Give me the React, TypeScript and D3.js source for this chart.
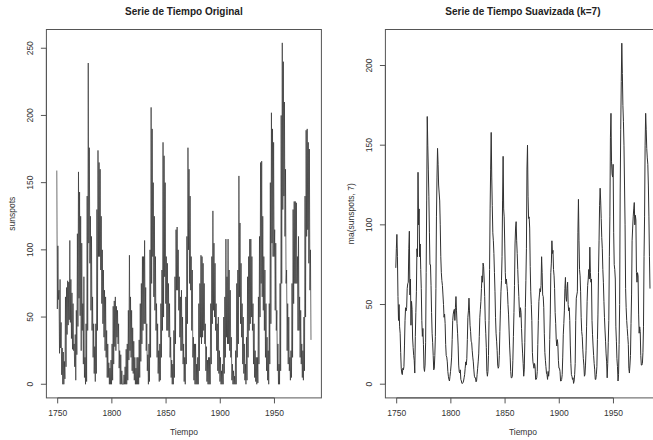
import React from "react";
import * as d3 from "d3";

// ---- data ----
const FIRST_YEAR = 1749;

// monthly sunspots, summarised as [high, low] per year 1749..1983
const sunspotsHiLo: number[] = [
  159, 56, 103, 63, 70, 23, 78, 27, 46, 7, 27, 0, 24, 0, 17, 4, 65, 13, 72, 37,
  77, 44, 76, 48, 107, 46, 78, 34, 68, 26, 60, 25, 30, 13, 37, 3, 55, 22, 112, 43,
  158, 64, 143, 51, 125, 25, 105, 40, 60, 15, 80, 5, 20, 0, 45, 2, 140, 40, 239, 105,
  176, 90, 125, 55, 110, 40, 65, 20, 45, 8, 28, 2, 45, 8, 130, 40, 174, 95, 165, 95,
  160, 85, 125, 60, 100, 45, 85, 35, 70, 25, 65, 20, 40, 5, 30, 5, 16, 0, 12, 0,
  18, 0, 30, 3, 58, 15, 62, 28, 65, 25, 58, 35, 55, 30, 45, 12, 25, 0, 22, 0,
  10, 0, 0, 0, 7, 0, 13, 0, 26, 0, 30, 3, 55, 18, 96, 25, 65, 20, 55, 10,
  42, 8, 32, 3, 20, 0, 12, 0, 20, 0, 20, 0, 33, 5, 60, 17, 75, 30, 95, 40,
  95, 45, 107, 45, 72, 25, 45, 10, 22, 0, 30, 2, 100, 20, 206, 75, 190, 95, 150, 65,
  125, 55, 95, 40, 60, 20, 45, 8, 25, 2, 30, 3, 60, 20, 85, 40, 180, 50, 170, 80,
  150, 60, 95, 40, 90, 40, 75, 35, 60, 20, 35, 5, 18, 0, 15, 0, 40, 5, 80, 30,
  115, 70, 117, 70, 100, 55, 80, 35, 65, 25, 70, 25, 50, 15, 30, 2, 20, 0, 65, 15,
  110, 45, 176, 100, 160, 75, 140, 70, 95, 40, 85, 20, 35, 3, 30, 0, 30, 0, 15, 0,
  20, 0, 60, 10, 75, 35, 96, 30, 95, 35, 90, 40, 75, 30, 45, 10, 28, 2, 18, 0,
  20, 0, 20, 0, 60, 15, 95, 45, 129, 55, 105, 50, 90, 40, 60, 25, 45, 10, 50, 8,
  25, 2, 20, 0, 10, 0, 15, 0, 50, 8, 65, 20, 108, 35, 80, 30, 108, 30, 85, 25,
  70, 20, 35, 3, 15, 0, 10, 0, 6, 0, 25, 0, 75, 20, 85, 30, 155, 65, 120, 45,
  90, 35, 60, 15, 50, 8, 30, 3, 15, 0, 35, 3, 80, 20, 95, 40, 108, 45, 108, 50,
  95, 40, 60, 15, 45, 5, 25, 2, 20, 0, 20, 1, 65, 15, 110, 50, 165, 75, 166, 65,
  125, 55, 95, 40, 85, 20, 60, 10, 35, 3, 25, 0, 60, 15, 150, 45, 202, 105, 190, 95,
  180, 95, 115, 55, 105, 40, 55, 10, 30, 0, 15, 0, 75, 10, 200, 75, 254, 130, 240, 140,
  210, 110, 160, 75, 85, 25, 60, 15, 50, 10, 20, 3, 25, 5, 75, 20, 130, 60, 136, 75,
  136, 75, 135, 75, 95, 40, 110, 40, 65, 20, 55, 15, 30, 5, 25, 3, 50, 10, 140, 50,
  189, 110, 190, 115, 180, 90, 175, 70, 100, 33,
];

// ma(sunspots, 7), two readings per year 1749..1983
const maHalfYear: number[] = [
  73, 85, 94, 80, 55, 40, 50, 36, 32, 20, 10, 7, 6, 10, 9, 11, 24, 40, 48, 46,
  48, 60, 63, 64, 85, 96, 56, 66, 37, 52, 47, 29, 23, 18, 15, 7, 30, 45, 58, 85,
  80, 133, 100, 110, 80, 88, 72, 60, 40, 30, 35, 25, 10, 8, 12, 26, 70, 115, 168, 150,
  135, 118, 95, 75, 75, 62, 45, 32, 26, 18, 9, 10, 18, 30, 60, 105, 130, 148, 138, 125,
  120, 115, 100, 80, 70, 65, 62, 56, 50, 42, 44, 38, 25, 18, 17, 14, 8, 5, 3, 2,
  5, 8, 12, 17, 28, 40, 44, 46, 47, 40, 48, 55, 46, 38, 32, 24, 12, 8, 7, 9,
  3, 2, 0.5, 0.5, 1, 2, 4, 6, 10, 14, 12, 16, 28, 42, 46, 54, 46, 37, 33, 27,
  26, 21, 17, 14, 9, 5, 4, 4, 1.5, 2, 6, 10, 14, 19, 30, 42, 47, 52, 60, 68,
  64, 76, 74, 66, 55, 40, 32, 23, 8, 5, 8, 18, 40, 72, 110, 135, 158, 130, 112, 95,
  90, 82, 70, 58, 42, 32, 27, 21, 12, 10, 11, 18, 33, 46, 58, 65, 80, 115, 143, 110,
  105, 88, 70, 63, 66, 62, 58, 50, 44, 34, 24, 17, 8, 4, 4, 5, 15, 30, 45, 62,
  88, 98, 102, 90, 82, 72, 63, 55, 46, 42, 48, 45, 35, 26, 19, 13, 5, 9, 26, 48,
  65, 85, 135, 150, 118, 104, 105, 98, 74, 58, 50, 40, 20, 14, 12, 10, 13, 11, 3, 3,
  4, 8, 25, 40, 52, 56, 60, 58, 62, 80, 70, 56, 55, 48, 32, 20, 15, 11, 7, 6,
  3, 8, 5, 9, 28, 44, 70, 76, 90, 82, 84, 72, 68, 60, 45, 38, 28, 24, 28, 25,
  15, 10, 10, 8, 2, 2, 3, 6, 17, 31, 38, 46, 60, 67, 55, 52, 60, 64, 50, 46,
  48, 40, 24, 13, 6, 5, 3, 4, 0.5, 2, 6, 13, 40, 54, 56, 58, 95, 116, 90, 72,
  68, 58, 42, 33, 30, 22, 16, 12, 5, 6, 12, 21, 36, 52, 62, 66, 72, 66, 86, 70,
  64, 66, 40, 31, 24, 18, 13, 9, 3, 3, 6, 11, 28, 44, 70, 90, 112, 123, 115, 104,
  92, 85, 72, 64, 52, 42, 34, 27, 19, 14, 4, 13, 26, 40, 80, 105, 155, 170, 140, 132,
  130, 138, 95, 75, 72, 66, 36, 27, 16, 11, 2, 6, 25, 50, 120, 160, 190, 214, 195, 175,
  165, 150, 125, 100, 60, 48, 40, 35, 30, 25, 10, 7, 12, 18, 38, 56, 90, 98, 105, 110,
  114, 100, 106, 103, 70, 64, 70, 68, 44, 32, 36, 33, 18, 12, 12, 13, 20, 36, 80, 105,
  150, 170, 160, 148, 142, 138, 125, 105, 80, 60,
];

const xTicks: number[] = [1750, 1800, 1850, 1900, 1950];
const leftYTicks: number[] = [0, 50, 100, 150, 200, 250];
const rightYTicks: number[] = [0, 50, 100, 150, 200];
const titles: string[] = ["Serie de Tiempo Original", "Serie de Tiempo Suavizada (k=7)"];
const yLabels: string[] = ["sunspots", "ma(sunspots, 7)"];
const xLabel = "Tiempo";

// ---- layout ----
const W = 653;
const H = 440;
const FONT = "'Liberation Sans', Arial, Helvetica, sans-serif";
const X_DOMAIN: [number, number] = [1739.6, 1993.3];

type PanelDef = {
  title: string;
  ylab: string;
  values: number[];
  yTicks: number[];
  yDomain: [number, number];
  left: number;
  right: number;
  stroke: string;
  strokeWidth: number;
};

const panels: PanelDef[] = [
  {
    title: titles[0],
    ylab: yLabels[0],
    values: sunspotsHiLo,
    yTicks: leftYTicks,
    yDomain: [-10.15, 263.95],
    left: 46.4,
    right: 321.4,
    stroke: "#303030",
    strokeWidth: 0.7,
  },
  {
    title: titles[1],
    ylab: yLabels[1],
    values: maHalfYear,
    yTicks: rightYTicks,
    yDomain: [-8.6, 222.6],
    left: 385.4,
    right: 660.4,
    stroke: "#303030",
    strokeWidth: 1,
  },
];

const TOP = 29.5;
const BOTTOM = 397.9;

function Panel({ p }: { p: PanelDef }) {
  const x = d3.scaleLinear().domain(X_DOMAIN).range([p.left, p.right]);
  const y = d3.scaleLinear().domain(p.yDomain).range([BOTTOM, TOP]);
  const pts: [number, number][] = p.values.map((v, i) => [
    FIRST_YEAR + Math.floor(i / 2) + (i % 2 === 0 ? 0.2 : 0.7),
    v,
  ]);
  const line = d3
    .line<[number, number]>()
    .x((d) => x(d[0]))
    .y((d) => y(d[1]));
  const cx = (p.left + p.right) / 2;
  const cy = (TOP + BOTTOM) / 2;
  const axisColor = "#555";
  const textColor = "#333";
  return (
    <g>
      <text
        x={cx}
        y={15}
        textAnchor="middle"
        fontFamily={FONT}
        fontWeight="bold"
        fontSize={10}
        fill="#222"
      >
        {p.title}
      </text>
      <path
        d={line(pts) || ""}
        fill="none"
        stroke={p.stroke}
        strokeWidth={p.strokeWidth}
        strokeLinejoin="round"
      />
      <rect
        x={p.left}
        y={TOP}
        width={p.right - p.left}
        height={BOTTOM - TOP}
        fill="none"
        stroke={axisColor}
        strokeWidth={1}
      />
      {/* x axis */}
      <line
        x1={x(xTicks[0])}
        x2={x(xTicks[xTicks.length - 1])}
        y1={BOTTOM}
        y2={BOTTOM}
        stroke={axisColor}
      />
      {xTicks.map((t) => (
        <g key={t}>
          <line x1={x(t)} x2={x(t)} y1={BOTTOM} y2={BOTTOM + 5.5} stroke={axisColor} />
          <text
            x={x(t)}
            y={BOTTOM + 18}
            textAnchor="middle"
            fontFamily={FONT}
            fontSize={8.5}
            fill={textColor}
          >
            {t}
          </text>
        </g>
      ))}
      <text x={cx} y={435} textAnchor="middle" fontFamily={FONT} fontSize={8.5} fill={textColor}>
        {xLabel}
      </text>
      {/* y axis */}
      <line
        x1={p.left}
        x2={p.left}
        y1={y(p.yTicks[0])}
        y2={y(p.yTicks[p.yTicks.length - 1])}
        stroke={axisColor}
      />
      {p.yTicks.map((t) => (
        <g key={t}>
          <line x1={p.left - 5.5} x2={p.left} y1={y(t)} y2={y(t)} stroke={axisColor} />
          <text
            transform={`translate(${p.left - 13},${y(t)}) rotate(-90)`}
            textAnchor="middle"
            fontFamily={FONT}
            fontSize={8.5}
            fill={textColor}
          >
            {t}
          </text>
        </g>
      ))}
      <text
        transform={`translate(${p.left - 31},${cy}) rotate(-90)`}
        textAnchor="middle"
        fontFamily={FONT}
        fontSize={8.5}
        fill={textColor}
      >
        {p.ylab}
      </text>
    </g>
  );
}

export default function App() {
  return (
    <svg
      width={W}
      height={H}
      viewBox={`0 0 ${W} ${H}`}
      style={{ position: "absolute", left: 0, top: 0, background: "#fff" }}
    >
      <rect x={0} y={0} width={W} height={H} fill="#fff" />
      {panels.map((p, i) => (
        <Panel key={i} p={p} />
      ))}
    </svg>
  );
}
